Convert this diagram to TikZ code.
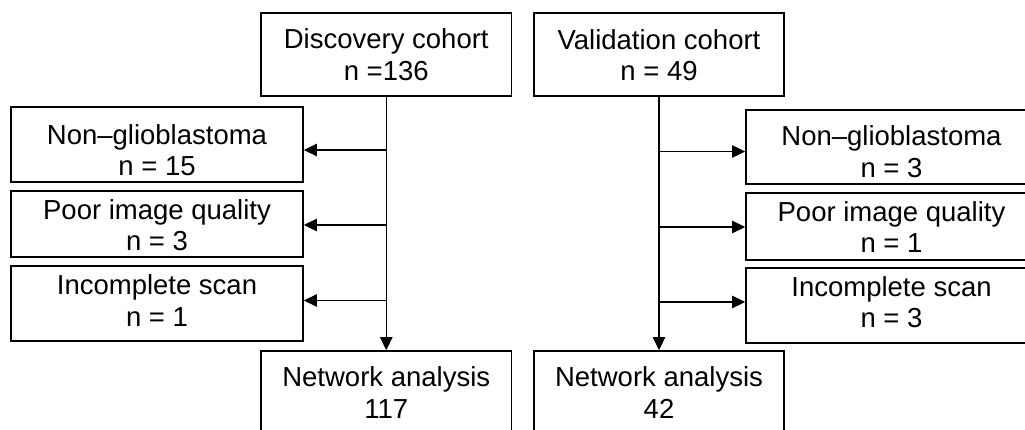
\documentclass[tikz,border=0pt]{standalone}
\usepackage{fontspec}
\setmainfont{Liberation Sans}
\usetikzlibrary{arrows.meta}
\begin{document}
\begin{tikzpicture}[x=1pt,y=-1pt,
  box/.style={draw=black, line width=1.8pt, rectangle, inner sep=0pt},
  txt/.style={font=\fontsize{27.5}{31.5}\selectfont, align=center, inner sep=0pt, text=black},
  arr/.style={draw=black, line width=1.3pt, -{Triangle[length=13pt,width=12.5pt]}}]
\clip (0,0) rectangle (1025,430);
\fill[white] (0,0) rectangle (1025,430);
% top boxes
\node[box, minimum width=250.5pt, minimum height=83.3pt] (disc) at (386.25,54.35) {};
\node[txt] (disct) at (386.25,54.7) {Discovery cohort\\n =136};
\node[box, minimum width=250pt, minimum height=83.3pt] (val) at (659,54.35) {};
\node[txt] (valt) at (659,55) {Validation cohort\\n = 49};
% left exclusion boxes
\node[box, minimum width=292pt, minimum height=75pt] (dl1) at (157,144.8) {};
\node[txt] (dl1t) at (157,150) {Non–glioblastoma\\n = 15};
\node[box, minimum width=292pt, minimum height=66.6pt] (dl2) at (157,224) {};
\node[txt] (dl2t) at (157,225) {Poor image quality\\n = 3};
\node[box, minimum width=292pt, minimum height=75.3pt] (dl3) at (157,303.35) {};
\node[txt] (dl3t) at (157,300.5) {Incomplete scan\\n = 1};
% right exclusion boxes
\node[box, minimum width=291pt, minimum height=74.3pt] (vl1) at (891.5,147.15) {};
\node[txt] (vl1t) at (891.5,151.5) {Non–glioblastoma\\n = 3};
\node[box, minimum width=291pt, minimum height=67.3pt] (vl2) at (891.5,226.35) {};
\node[txt] (vl2t) at (891.5,227) {Poor image quality\\n = 1};
\node[box, minimum width=291pt, minimum height=75pt] (vl3) at (891.5,305.5) {};
\node[txt] (vl3t) at (891.5,302) {Incomplete scan\\n = 3};
% bottom boxes
\node[box, minimum width=250.5pt, minimum height=89pt] (dna) at (386.25,395.5) {};
\node[txt] (dnat) at (386.25,392.3) {Network analysis\\117};
\node[box, minimum width=250pt, minimum height=89pt] (vna) at (659,395.5) {};
\node[txt] (vnat) at (659,392.3) {Network analysis\\42};
% connectors
\draw[arr] (disc.south) -- (dna.north);
\draw[arr] (val.south) -- (vna.north);
\draw[arr] (disc.south |- dl1t.center) -- (dl1.east |- dl1t.center);
\draw[arr] (disc.south |- dl2t.center) -- (dl2.east |- dl2t.center);
\draw[arr] (disc.south |- dl3t.center) -- (dl3.east |- dl3t.center);
\draw[arr] (val.south |- vl1t.center) -- (vl1.west |- vl1t.center);
\draw[arr] (val.south |- vl2t.center) -- (vl2.west |- vl2t.center);
\draw[arr] (val.south |- vl3t.center) -- (vl3.west |- vl3t.center);
\end{tikzpicture}
\end{document}
